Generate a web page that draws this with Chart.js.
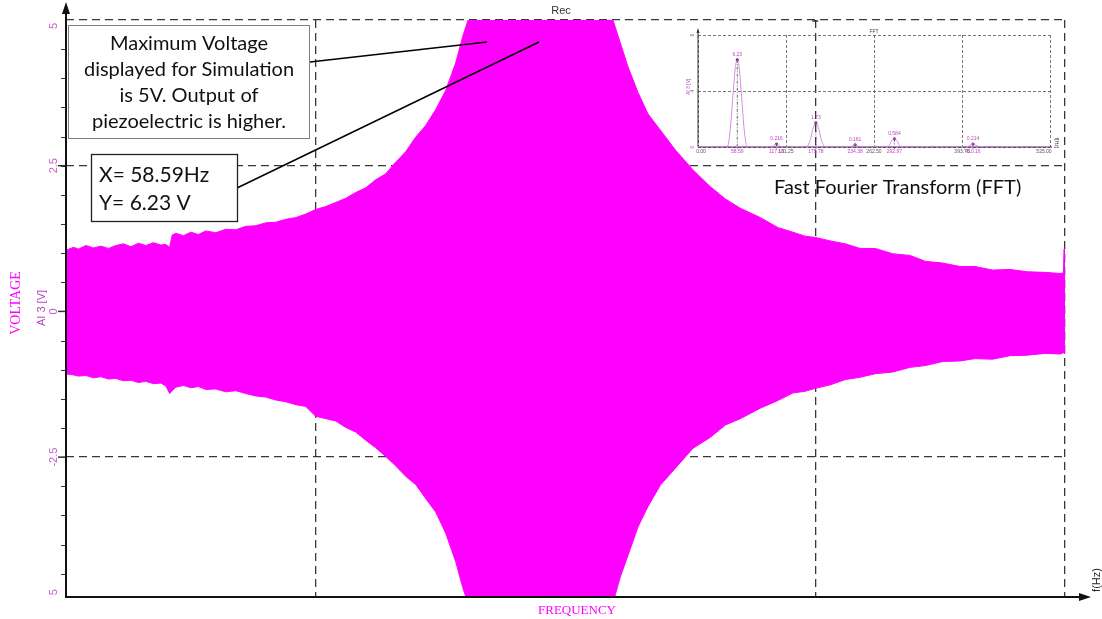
<!DOCTYPE html>
<html>
<head>
<meta charset="utf-8">
<script src="https://cdn.jsdelivr.net/npm/chart.js@4.4.1/dist/chart.umd.min.js"></script>
<style>
  html, body { margin: 0; padding: 0; background: #fff; }
  #wrap { position: relative; width: 1102px; height: 619px; }
  #main { position: absolute; left: 0; top: 0; }
  #fft { position: absolute; left: 680px; top: 25px; }
</style>
</head>
<body>
<div id="wrap">
  <canvas id="main" width="1102" height="619"></canvas>
  <canvas id="fft" width="385" height="135"></canvas>
</div>
<script>
// recorded envelope of the sweep (arbitrary frequency units 0..400)
const sweepFreq = [0, 3, 5, 8, 11, 14, 17, 20, 23, 26, 29, 32, 35, 38, 40, 41.5, 42.5, 44, 47, 50,
  53, 56, 60, 64, 68, 72, 76, 80, 84, 88, 92, 96, 100, 104, 108, 112, 116, 120, 124, 128,
  132, 136, 140, 144, 148, 152, 156, 159, 161, 219, 222, 225, 229, 233, 238, 244, 251, 258, 264, 270,
  278, 285, 291, 296, 300, 306, 312, 318, 324, 331, 338, 344, 351, 358, 364, 371, 378, 385, 392, 398,
  399.4, 399.6, 400];
const sweepUpper = [1.05, 1.10, 1.07, 1.13, 1.09, 1.12, 1.08, 1.13, 1.16, 1.11, 1.17, 1.13, 1.18, 1.14, 1.15, 1.10, 1.31, 1.34, 1.30, 1.36,
  1.32, 1.38, 1.35, 1.41, 1.40, 1.46, 1.47, 1.52, 1.53, 1.58, 1.61, 1.67, 1.75, 1.80, 1.87, 1.94, 2.04, 2.12, 2.26, 2.36,
  2.56, 2.74, 2.99, 3.19, 3.46, 3.79, 4.26, 4.74, 5, 5, 4.60, 4.20, 3.76, 3.39, 3.11, 2.77, 2.43, 2.14, 1.93, 1.77,
  1.61, 1.44, 1.36, 1.29, 1.27, 1.21, 1.16, 1.08, 1.08, 0.99, 0.96, 0.86, 0.83, 0.77, 0.77, 0.71, 0.72, 0.68, 0.67, 0.65,
  0.66, 1.07, 1.07];
const sweepLower = [-1.07, -1.09, -1.11, -1.10, -1.14, -1.12, -1.16, -1.15, -1.19, -1.18, -1.22, -1.20, -1.24, -1.23, -1.28, -1.41, -1.36, -1.30, -1.27, -1.31,
  -1.29, -1.34, -1.33, -1.38, -1.36, -1.41, -1.45, -1.47, -1.52, -1.55, -1.60, -1.63, -1.80, -1.84, -1.88, -1.99, -2.07, -2.21, -2.34, -2.49,
  -2.65, -2.83, -2.97, -3.21, -3.44, -3.80, -4.29, -4.76, -5, -5, -4.55, -4.19, -3.70, -3.35, -2.98, -2.69, -2.35, -2.16, -1.95, -1.84,
  -1.66, -1.53, -1.40, -1.37, -1.32, -1.26, -1.17, -1.13, -1.07, -1.04, -0.96, -0.93, -0.86, -0.85, -0.81, -0.82, -0.76, -0.75, -0.72, -0.73,
  -0.71, -0.72, -0.72];
const yTicks = [5, 2.5, 0, -2.5, -5];
const yTickLabels = ['5', '2.5', '0', '-2.5', '-5'];

// FFT inset
const fftFreq = [0, 5, 10, 40, 44, 48, 52, 55.5, 58.59, 61.5, 65, 69, 73, 77, 108, 112, 117.19, 122, 126, 160,
  164, 168, 172, 175.78, 179.5, 183.5, 187.5, 191, 226, 230, 234.38, 238.5, 242, 282, 285, 289, 292.97, 297, 300.5, 304,
  340, 346, 352, 358, 363, 400, 404, 410.16, 416, 420, 525];
const fftAmp = [0.06, 0.04, 0, 0, 0.05, 1.2, 3.6, 5.6, 6.23, 5.6, 3.6, 1.2, 0.05, 0, 0, 0.08, 0.216, 0.08, 0, 0,
  0.1, 0.6, 1.4, 1.73, 1.4, 0.6, 0.1, 0, 0, 0.07, 0.161, 0.07, 0, 0, 0.1, 0.45, 0.584, 0.45, 0.1, 0,
  0, 0.04, 0.05, 0.03, 0, 0, 0.08, 0.214, 0.08, 0, 0];
const peakFreq = [58.59, 117.19, 175.78, 234.38, 292.97, 410.16];
const peakAmp = [6.23, 0.216, 1.73, 0.161, 0.584, 0.214];
const peakFreqLabels = ['58.59', '117.19', '175.78', '234.38', '292.97', '410.16'];
const peakAmpLabels = ['6.23', '0.216', '1.73', '0.161', '0.584', '0.214'];
const fftTicks = [0, 131.25, 262.5, 393.75, 525];
const fftTickLabels = ['0.00', '131.25', '262.50', '393.75', '525.00'];

const MAG = '#ff00ff';
const GRID = 'rgba(45,45,45,0.95)';

function line(ctx, x1, y1, x2, y2) {
  ctx.beginPath(); ctx.moveTo(x1, y1); ctx.lineTo(x2, y2); ctx.stroke();
}

const mainDecor = {
  id: 'mainDecor',
  afterDraw(chart) {
    const ctx = chart.ctx;
    const xs = chart.scales.x, ys = chart.scales.y;
    const L = chart.chartArea.left, B = chart.chartArea.bottom;
    ctx.save();

    // minor ticks on y axis
    ctx.strokeStyle = '#333';
    ctx.lineWidth = 1;
    for (let v = -4.5; v < 5; v += 0.5) {
      const py = Math.round(ys.getPixelForValue(v)) + 0.5;
      line(ctx, L - 5, py, L, py);
    }
    ctx.lineWidth = 1.5;
    [2.5, 0, -2.5].forEach(v => {
      const py = ys.getPixelForValue(v);
      line(ctx, L - 8, py, L, py);
    });

    // axes
    ctx.strokeStyle = '#111';
    ctx.fillStyle = '#111';
    ctx.lineWidth = 2;
    line(ctx, L, 8, L, B + 1);
    line(ctx, L - 1, B, 1083, B);
    ctx.beginPath(); ctx.moveTo(L, 2); ctx.lineTo(L - 4, 14); ctx.lineTo(L + 4, 14); ctx.closePath(); ctx.fill();
    ctx.beginPath(); ctx.moveTo(1091, B); ctx.lineTo(1079, B - 4); ctx.lineTo(1079, B + 4); ctx.closePath(); ctx.fill();
    ctx.lineWidth = 1.2;
    const px3 = xs.getPixelForValue(300);
    line(ctx, px3 - 3, 21, px3 + 3, 21);

    // y tick labels (rotated)
    ctx.save();
    ctx.beginPath(); ctx.rect(0, 0, L, B - 1); ctx.clip();
    ctx.fillStyle = '#c35bcb';
    ctx.font = '11px "Liberation Sans", Arial, sans-serif';
    ctx.textAlign = 'center';
    ctx.textBaseline = 'middle';
    yTicks.forEach((v, i) => {
      let py = ys.getPixelForValue(v);
      py = Math.max(26, Math.min(py, 594));
      ctx.save(); ctx.translate(54, py); ctx.rotate(-Math.PI / 2);
      ctx.fillText(yTickLabels[i], 0, 0);
      ctx.restore();
    });
    ctx.restore();

    // axis titles
    ctx.save(); ctx.translate(42, 308); ctx.rotate(-Math.PI / 2);
    ctx.fillStyle = '#b24cc0';
    ctx.font = '11px "Liberation Sans", Arial, sans-serif';
    ctx.textAlign = 'center'; ctx.textBaseline = 'middle';
    ctx.fillText('AI 3 [V]', 0, 0);
    ctx.restore();

    ctx.save(); ctx.translate(16, 303); ctx.rotate(-Math.PI / 2);
    ctx.fillStyle = MAG;
    ctx.font = '14px "Liberation Serif", "Times New Roman", serif';
    ctx.textAlign = 'center'; ctx.textBaseline = 'middle';
    ctx.fillText('VOLTAGE', 0, 0);
    ctx.restore();

    ctx.fillStyle = MAG;
    ctx.font = '13px "Liberation Serif", "Times New Roman", serif';
    ctx.textAlign = 'center'; ctx.textBaseline = 'middle';
    ctx.fillText('FREQUENCY', 577, 611);

    ctx.save(); ctx.translate(1097, 580); ctx.rotate(-Math.PI / 2);
    ctx.fillStyle = '#222';
    ctx.font = '11px "Liberation Sans", Arial, sans-serif';
    ctx.textAlign = 'center'; ctx.textBaseline = 'middle';
    ctx.fillText('f(Hz)', 0, 0);
    ctx.restore();

    ctx.fillStyle = '#333';
    ctx.font = '11px "Liberation Sans", Arial, sans-serif';
    ctx.fillText('Rec', 561, 11);

    // callout lines
    ctx.strokeStyle = '#000';
    ctx.lineWidth = 1.5;
    line(ctx, 310, 62, 487, 42);
    line(ctx, 237, 188, 539, 42);

    // callout box 1
    ctx.fillStyle = '#fff';
    ctx.fillRect(68, 25, 242, 114);
    ctx.strokeStyle = '#7f7f7f';
    ctx.lineWidth = 1;
    ctx.strokeRect(68.5, 25.5, 241, 113);
    ctx.fillStyle = '#111';
    ctx.font = '20px Lato, "Open Sans", sans-serif';
    ctx.textAlign = 'center';
    ['Maximum Voltage', 'displayed for Simulation', 'is 5V. Output of', 'piezoelectric is higher.']
      .forEach((t, i) => ctx.fillText(t, 189, 44 + i * 26));

    // callout box 2
    ctx.fillStyle = '#fff';
    ctx.fillRect(91, 154, 146, 67);
    ctx.strokeStyle = '#222';
    ctx.lineWidth = 1.3;
    ctx.strokeRect(91.5, 154.5, 146, 67);
    ctx.fillStyle = '#111';
    ctx.font = '21px Lato, "Open Sans", sans-serif';
    ctx.textAlign = 'left';
    ctx.fillText('X= 58.59Hz', 99, 175);
    ctx.fillText('Y= 6.23 V', 99, 203);

    ctx.font = '20px Lato, "Open Sans", sans-serif';
    ctx.fillText('Fast Fourier Transform (FFT)', 774, 188);
    ctx.restore();
  }
};

new Chart(document.getElementById('main'), {
  type: 'line',
  data: {
    datasets: [
      {
        data: sweepFreq.map((f, i) => ({ x: f, y: sweepUpper[i] })),
        borderColor: MAG, backgroundColor: MAG, borderWidth: 1,
        pointRadius: 0, tension: 0, fill: '+1'
      },
      {
        data: sweepFreq.map((f, i) => ({ x: f, y: sweepLower[i] })),
        borderColor: MAG, backgroundColor: MAG, borderWidth: 1,
        pointRadius: 0, tension: 0, fill: false
      }
    ]
  },
  options: {
    responsive: false,
    animation: false,
    devicePixelRatio: 1,
    layout: { padding: { left: 66, right: 37, top: 20, bottom: 22 } },
    plugins: { legend: { display: false }, tooltip: { enabled: false } },
    scales: {
      x: {
        type: 'linear', min: 0, max: 400,
        ticks: { display: false, stepSize: 100 },
        border: { display: false, dash: [8, 5] },
        grid: { drawTicks: false, color: GRID, lineWidth: 1.3 },
        afterFit: s => { s.height = 0; }
      },
      y: {
        min: -4.9, max: 5,
        ticks: { display: false, stepSize: 2.5 },
        border: { display: false, dash: [8, 5] },
        grid: { drawTicks: false, color: GRID, lineWidth: 1.3 },
        afterFit: s => { s.width = 0; }
      }
    }
  },
  plugins: [mainDecor]
});

// ---- FFT inset ----
const fftDecor = {
  id: 'fftDecor',
  afterDraw(chart) {
    const ctx = chart.ctx;
    const xs = chart.scales.x, ys = chart.scales.y;
    const L = chart.chartArea.left, B = chart.chartArea.bottom, T = chart.chartArea.top;
    ctx.save();

    // peak drop lines
    ctx.strokeStyle = '#444';
    ctx.lineWidth = 0.8;
    ctx.setLineDash([3, 1.5, 1, 1.5]);
    peakFreq.forEach((f, i) => {
      const px = xs.getPixelForValue(f);
      line(ctx, px, ys.getPixelForValue(peakAmp[i]), px, B + 2);
    });
    ctx.setLineDash([]);

    // axes
    ctx.strokeStyle = '#333';
    ctx.lineWidth = 1;
    line(ctx, L, T - 5, L, B);
    line(ctx, L, B, chart.chartArea.right + 2, B);
    ctx.fillStyle = '#333';
    ctx.beginPath(); ctx.moveTo(L, T - 7); ctx.lineTo(L - 1.5, T - 2); ctx.lineTo(L + 1.5, T - 2); ctx.closePath(); ctx.fill();
    ctx.strokeStyle = '#c77bd6';
    line(ctx, L, B - 0.5, chart.chartArea.right, B - 0.5);

    ctx.textAlign = 'center';
    ctx.textBaseline = 'middle';
    ctx.font = '5px "Liberation Sans", Arial, sans-serif';

    ctx.fillStyle = '#555';
    fftTicks.forEach((v, i) => {
      let px = xs.getPixelForValue(v);
      if (i === 0) px += 3;
      if (i === fftTicks.length - 1) px -= 6;
      ctx.fillText(fftTickLabels[i], px, B + 5);
    });
    ctx.fillStyle = '#c43fc4';
    peakFreq.forEach((f, i) => {
      const px = xs.getPixelForValue(f);
      ctx.fillText(peakFreqLabels[i], px, B + 5);
      ctx.fillText(peakAmpLabels[i], px, ys.getPixelForValue(peakAmp[i]) - 5);
    });

    ctx.fillStyle = '#b04cc0';
    [8, 4, 0].forEach(v => {
      ctx.save(); ctx.translate(L - 5, ys.getPixelForValue(v)); ctx.rotate(-Math.PI / 2);
      ctx.fillText(String(v), 0, 0);
      ctx.restore();
    });
    ctx.save(); ctx.translate(L - 9, ys.getPixelForValue(4.3)); ctx.rotate(-Math.PI / 2);
    ctx.fillText('AI 3 [V]', 0, 0);
    ctx.restore();
    ctx.fillStyle = '#444';
    ctx.fillText('FFT', xs.getPixelForValue(262.5), T - 3);
    ctx.save(); ctx.translate(chart.chartArea.right + 6, B - 4); ctx.rotate(Math.PI / 2);
    ctx.fillText('f[Hz]', 0, 0);
    ctx.restore();
    ctx.restore();
  }
};

new Chart(document.getElementById('fft'), {
  type: 'line',
  data: {
    datasets: [
      {
        data: fftFreq.map((f, i) => ({ x: f, y: fftAmp[i] })),
        borderColor: '#d88ae2', borderWidth: 1,
        pointRadius: 0, cubicInterpolationMode: 'monotone', fill: false
      },
      {
        data: peakFreq.map((f, i) => ({ x: f, y: peakAmp[i] })),
        showLine: false, pointRadius: 1.6, pointBorderWidth: 0,
        pointBackgroundColor: '#6e2570'
      }
    ]
  },
  options: {
    responsive: false,
    animation: false,
    devicePixelRatio: 1,
    layout: { padding: { left: 18, right: 15, top: 10, bottom: 13 } },
    plugins: { legend: { display: false }, tooltip: { enabled: false } },
    scales: {
      x: {
        type: 'linear', min: 0, max: 525,
        ticks: { display: false, stepSize: 131.25 },
        border: { display: false, dash: [3, 2] },
        grid: { drawTicks: false, color: '#555', lineWidth: 0.8 },
        afterFit: s => { s.height = 0; }
      },
      y: {
        min: 0, max: 8,
        ticks: { display: false, stepSize: 4 },
        border: { display: false, dash: [3, 2] },
        grid: { drawTicks: false, color: '#555', lineWidth: 0.8 },
        afterFit: s => { s.width = 0; }
      }
    }
  },
  plugins: [fftDecor]
});
</script>
</body>
</html>
